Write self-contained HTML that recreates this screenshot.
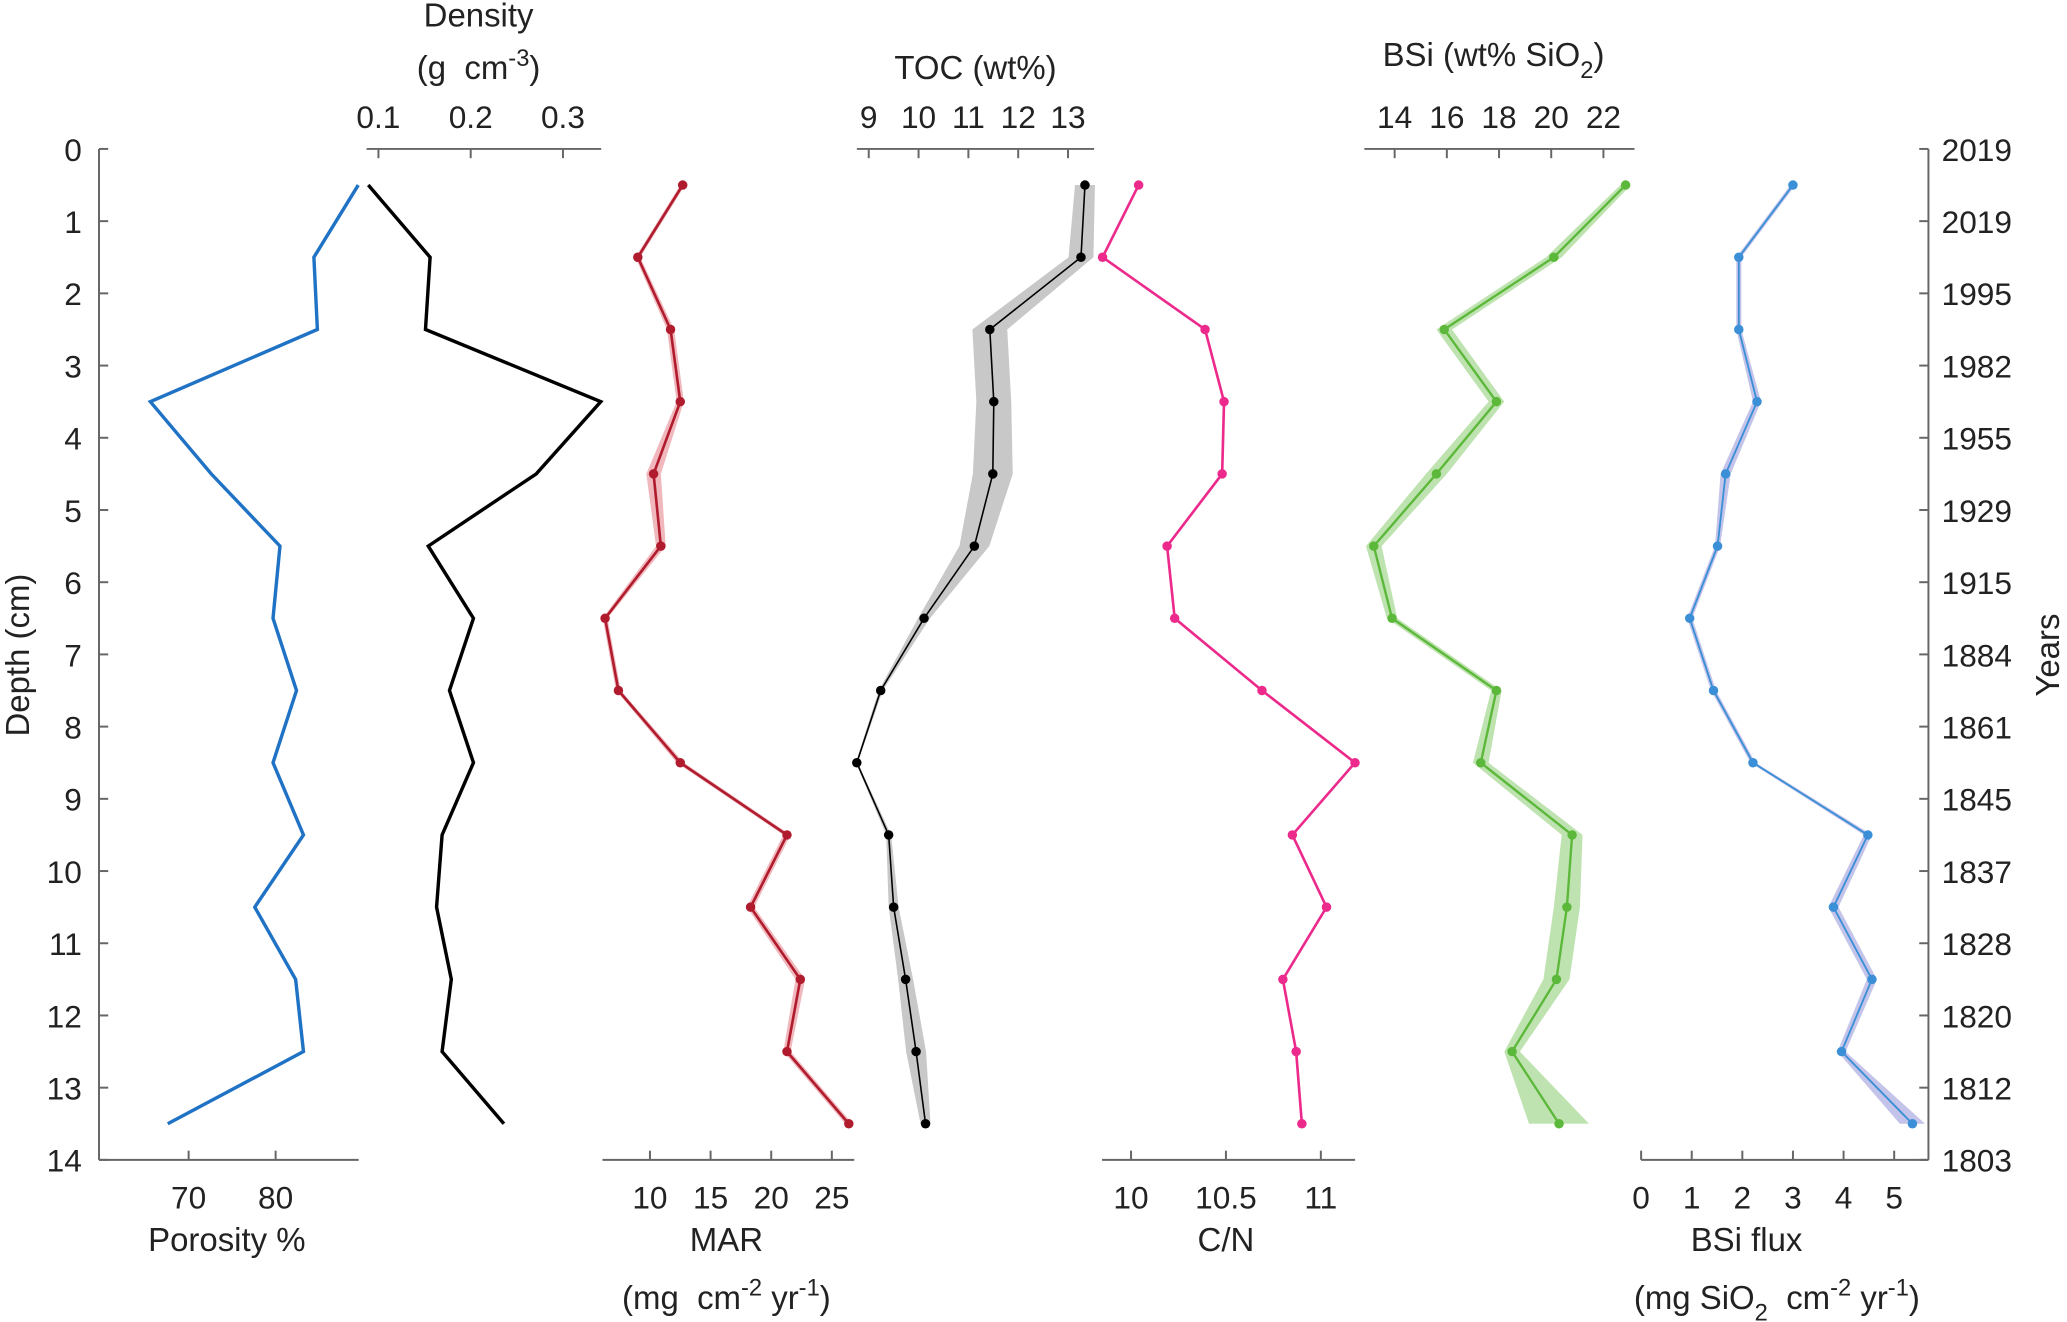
<!DOCTYPE html>
<html><head><meta charset="utf-8"><style>
html,body{margin:0;padding:0;background:#fff;}
svg{display:block;font-family:"Liberation Sans",Arial,sans-serif;}
</style></head><body>
<svg id="chart" width="2067" height="1322" viewBox="0 0 1568 1003" xmlns="http://www.w3.org/2000/svg"></svg>
<script>
const depths=[0.5,1.5,2.5,3.5,4.5,5.5,6.5,7.5,8.5,9.5,10.5,11.5,12.5,13.5];
const porosity=[89.5,84.4,84.8,65.6,72.6,80.5,79.7,82.4,79.7,83.2,77.6,82.3,83.2,67.6];
const density=[0.089,0.156,0.151,0.341,0.271,0.154,0.203,0.177,0.203,0.169,0.163,0.179,0.169,0.236];
const mar=[12.7,9.0,11.7,12.5,10.3,10.9,6.3,7.4,12.5,21.3,18.3,22.4,21.3,26.4];
const marErr=[0.2,0.2,0.3,0.3,0.6,0.4,0.2,0.2,0.3,0.3,0.3,0.4,0.3,0.3];
const toc=[13.34,13.26,11.43,11.51,11.49,11.12,10.11,9.24,8.76,9.40,9.50,9.74,9.95,10.14];
const tocErr=[0.2,0.25,0.35,0.35,0.4,0.3,0.12,0.04,0.02,0.05,0.1,0.15,0.2,0.1];
const cn=[10.04,9.85,10.39,10.49,10.48,10.19,10.23,10.69,11.18,10.85,11.03,10.80,10.87,10.90];
const bsi=[22.85,20.1,15.9,17.9,15.6,13.2,13.9,17.9,17.3,20.8,20.6,20.2,18.5,20.3];
const bsiErr=[0.2,0.3,0.3,0.3,0.4,0.3,0.2,0.2,0.3,0.4,0.5,0.5,0.3,1.15];
const flux=[3.0,1.93,1.93,2.29,1.67,1.51,0.96,1.43,2.21,4.48,3.80,4.56,3.96,5.36];
const fluxErr=[0.05,0.05,0.05,0.08,0.1,0.05,0.05,0.05,0.05,0.08,0.1,0.1,0.08,0.25];
const depthTicks=[0,1,2,3,4,5,6,7,8,9,10,11,12,13,14];
const yearLabels=["2019","2019","1995","1982","1955","1929","1915","1884","1861","1845","1837","1828","1820","1812","1803"];

const svg=document.getElementById('chart');
const NS='http://www.w3.org/2000/svg';
const Y0=113,Y1=880;
const yS=d=>Y0+(Y1-Y0)*d/14;
function mk(tag,attrs,parent){const e=document.createElementNS(NS,tag);for(const k in attrs)e.setAttribute(k,attrs[k]);(parent||svg).appendChild(e);return e;}
function txt(x,y,s,opts,parent){const t=mk('text',Object.assign({x:x,y:y,'font-size':24,fill:'#222','text-anchor':'middle'},opts||{}),parent);t.innerHTML=s;return t;}
const AX='#666';

const dg=mk('g',{});


mk('line',{x1:75,y1:Y0,x2:75,y2:Y1,stroke:AX,'stroke-width':1.5},dg);
depthTicks.forEach(d=>{mk('line',{x1:75,y1:yS(d),x2:82,y2:yS(d),stroke:AX,'stroke-width':1.5},dg);
 txt(62,yS(d)+9,d,{'text-anchor':'end'},dg);});
const dt=txt(0,0,'Depth (cm)',{transform:'translate(22,497) rotate(-90)','font-size':25});



const yg=mk('g',{});


mk('line',{x1:1463,y1:Y0,x2:1463,y2:Y1,stroke:AX,'stroke-width':1.5},yg);
yearLabels.forEach((l,i)=>{const y=yS(depthTicks[i]);mk('line',{x1:1456,y1:y,x2:1463,y2:y,stroke:AX,'stroke-width':1.5},yg);
 txt(1473,y+9,l,{'text-anchor':'start'},yg);});
const yt=txt(0,0,'Years',{transform:'translate(1562,497) rotate(-90)','font-size':25});



function panel(o){
 const g=mk('g',{});
 
 
 const xS=v=>o.px0+(v-o.v0)*o.ppu;
 const ay=o.top?Y0:Y1;
 mk('line',{x1:o.ax0,y1:ay,x2:o.ax1,y2:ay,stroke:AX,'stroke-width':1.5},g);
 o.ticks.forEach(t=>{const x=xS(t);mk('line',{x1:x,y1:ay,x2:x,y2:o.top?ay+7:ay-7,stroke:AX,'stroke-width':1.5},g);
  txt(x,o.top?ay-16:ay+37,t,{},g);});
 o.titles.forEach(tt=>{const t=txt(tt[0],tt[1],tt[2],{'font-size':25},g);});
 if(o.err){
  let pts=o.vals.map((v,i)=>xS(v+o.err[i])+','+yS(depths[i]));
  let pts2=o.vals.map((v,i)=>xS(v-o.err[i])+','+yS(depths[i])).reverse();
  const b=mk('polygon',{points:pts.concat(pts2).join(' '),fill:o.band,stroke:'none'},g);
  
  
 }
 const l=mk('polyline',{points:o.vals.map((v,i)=>xS(v)+','+yS(depths[i])).join(' '),fill:'none',stroke:o.color,'stroke-width':o.lw,'stroke-linejoin':'miter'},g);
 
 
 if(o.dots){o.vals.forEach((v,i)=>{const c=mk('circle',{cx:xS(v),cy:yS(depths[i]),r:3.6,fill:o.color},g);
  
  });}
}
panel({name:'porosity',top:false,ax0:75,ax1:272,px0:143,v0:70,ppu:6.6,ticks:[70,80],vals:porosity,color:'#1f72c4',lw:2.6,
 titles:[[172,949,'Porosity %']]});
panel({name:'density',top:true,ax0:278,ax1:456,px0:287,v0:0.1,ppu:700,ticks:[0.1,0.2,0.3],vals:density,color:'#000',lw:2.6,
 titles:[[363,20,'Density'],[363,60,'(g&#160;&#160;cm<tspan dy="-10" font-size="18">-3</tspan><tspan dy="10">)</tspan>']]});
panel({name:'mar',top:false,ax0:457,ax1:648,px0:493,v0:10,ppu:9.2,ticks:[10,15,20,25],vals:mar,err:marErr,band:'#f0b8bd',color:'#b01c2e',lw:2,dots:true,
 titles:[[551,949,'MAR'],[551,993,'(mg&#160;&#160;cm<tspan dy="-10" font-size="18">-2</tspan><tspan dy="10"> yr</tspan><tspan dy="-10" font-size="18">-1</tspan><tspan dy="10">)</tspan>']]});
panel({name:'toc',top:true,ax0:650,ax1:830,px0:659,v0:9,ppu:37.8,ticks:[9,10,11,12,13],vals:toc,err:tocErr,band:'#c8c8c8',color:'#000',lw:1.2,dots:true,
 titles:[[740,60,'TOC (wt%)']]});
panel({name:'cn',top:false,ax0:836,ax1:1028,px0:858,v0:10,ppu:144,ticks:[10,10.5,11],vals:cn,color:'#ec2a8c',lw:2,dots:true,
 titles:[[930,949,'C/N']]});
panel({name:'bsi',top:true,ax0:1035,ax1:1240,px0:1058,v0:14,ppu:19.8,ticks:[14,16,18,20,22],vals:bsi,err:bsiErr,band:'#bfe3b0',color:'#5cb83a',lw:1.8,dots:true,
 titles:[[1133,50,'BSi (wt% SiO<tspan dy="9" font-size="18">2</tspan><tspan dy="-9">)</tspan>']]});
panel({name:'bsi-flux',top:false,ax0:1245,ax1:1463,px0:1245,v0:0,ppu:38.4,ticks:[0,1,2,3,4,5],vals:flux,err:fluxErr,band:'#c4c4ea',color:'#3a8fd6',lw:1.4,dots:true,
 titles:[[1325,949,'BSi flux'],[1348,993,'(mg SiO<tspan dy="9" font-size="18">2</tspan><tspan dy="-9">&#160;&#160;cm</tspan><tspan dy="-10" font-size="18">-2</tspan><tspan dy="10"> yr</tspan><tspan dy="-10" font-size="18">-1</tspan><tspan dy="10">)</tspan>']]});
</script>
</body></html>
